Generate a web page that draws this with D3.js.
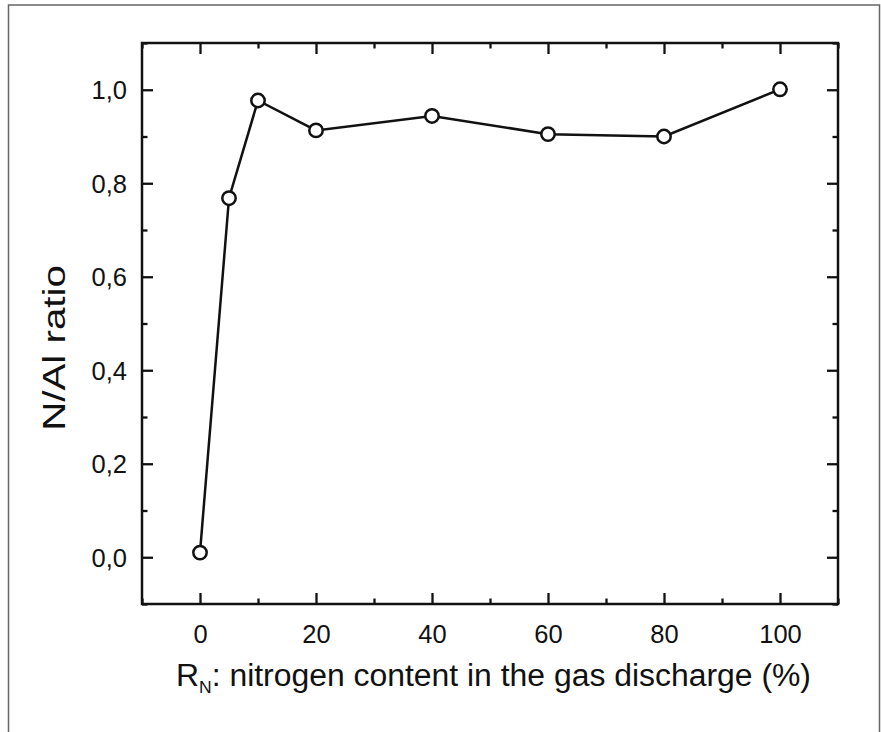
<!DOCTYPE html>
<html>
<head>
<meta charset="utf-8">
<script src="https://cdn.jsdelivr.net/npm/d3@7"></script>
<style>
  html, body { margin: 0; padding: 0; background: #fff; }
  svg { display: block; }
  text { font-family: "Liberation Sans", Arial, Helvetica, sans-serif; fill: #111; }
</style>
</head>
<body>
<svg id="chart" width="881" height="732"></svg>
<script>
// ---- data ----
const nitrogenContent = [0, 5, 10, 20, 40, 60, 80, 100];
const nAlRatio = [0.01, 0.768, 0.977, 0.913, 0.944, 0.905, 0.900, 1.001];
const xMajorTicks = [0, 20, 40, 60, 80, 100];
const xMinorTicks = [-10, 10, 30, 50, 70, 90, 110];
const yMajorTicks = [0.0, 0.2, 0.4, 0.6, 0.8, 1.0];
const yMinorTicks = [-0.1, 0.1, 0.3, 0.5, 0.7, 0.9, 1.1];
const xTitle = "nitrogen content in the gas discharge (%)";
const yTitle = "N/Al ratio";

// ---- layout ----
const svg = d3.select("#chart");
const L = 142, R = 838, T = 43, B = 604;
const x = d3.scaleLinear().domain([-10, 110]).range([L, R]);
const y = d3.scaleLinear().domain([-0.1, 1.1]).range([B, T]);
const fmt = d => d3.format(".1f")(d).replace(".", ",");

// outer border
svg.append("rect").attr("x", 8.5).attr("y", 5).attr("width", 871).attr("height", 760)
  .attr("fill", "none").attr("stroke", "#666").attr("stroke-width", 1.5);

const majorLen = 11, minorLen = 5.5, tickW = 2.3;
function axis(gen, transform, ticks, len, labels) {
  const g = svg.append("g").attr("transform", transform)
    .call(gen.tickValues(ticks).tickSizeInner(len).tickSizeOuter(0)
      .tickFormat(labels ? labels : ""));
  g.select(".domain").remove();
  g.selectAll(".tick line").attr("stroke", "#111").attr("stroke-width", tickW);
  return g;
}
// bottom (inward ticks -> negative size)
const xb = axis(d3.axisBottom(x), `translate(0,${B})`, xMajorTicks, -majorLen, d => String(d));
xb.selectAll(".tick text").attr("y", 21).attr("dy", "0.71em")
  .attr("font-size", 25.5).attr("fill", "#111");
axis(d3.axisBottom(x), `translate(0,${B})`, xMinorTicks, -minorLen, null);
// top
axis(d3.axisTop(x), `translate(0,${T})`, xMajorTicks, -majorLen, null);
axis(d3.axisTop(x), `translate(0,${T})`, xMinorTicks, -minorLen, null);
// left
const yl = axis(d3.axisLeft(y), `translate(${L},0)`, yMajorTicks, -majorLen, fmt);
yl.selectAll(".tick text").attr("x", -15).attr("dy", "0.36em")
  .attr("font-size", 25.5).attr("fill", "#111");
axis(d3.axisLeft(y), `translate(${L},0)`, yMinorTicks, -minorLen, null);
// right
axis(d3.axisRight(y), `translate(${R},0)`, yMajorTicks, -majorLen, null);
axis(d3.axisRight(y), `translate(${R},0)`, yMinorTicks, -minorLen, null);

// frame
svg.append("rect").attr("x", L).attr("y", T).attr("width", R - L).attr("height", B - T)
  .attr("fill", "none").attr("stroke", "#111").attr("stroke-width", 2.5);

// line
const pts = nitrogenContent.map((v, i) => [v, nAlRatio[i]]);
svg.append("path").datum(pts)
  .attr("d", d3.line().x(d => x(d[0])).y(d => y(d[1])))
  .attr("fill", "none").attr("stroke", "#111").attr("stroke-width", 2.5);
svg.selectAll("circle.pt").data(pts).enter().append("circle")
  .attr("class", "pt")
  .attr("cx", d => x(d[0])).attr("cy", d => y(d[1])).attr("r", 6.7)
  .attr("fill", "#fff").attr("stroke", "#111").attr("stroke-width", 2.5);

// x title
const xt = svg.append("text").attr("x", 176).attr("y", 686).attr("font-size", 31)
  .attr("textLength", 635).attr("lengthAdjust", "spacingAndGlyphs");
xt.append("tspan").text("R");
xt.append("tspan").attr("font-size", 17).attr("dy", 7).text("N");
xt.append("tspan").attr("dy", -7).text(": " + xTitle);

// y title (glyphs slightly widened as in the reference)
svg.append("text").attr("transform", "translate(65,348) rotate(-90) scale(1.3,1)")
  .attr("text-anchor", "middle").attr("font-size", 31)
  .text(yTitle);
</script>
</body>
</html>
